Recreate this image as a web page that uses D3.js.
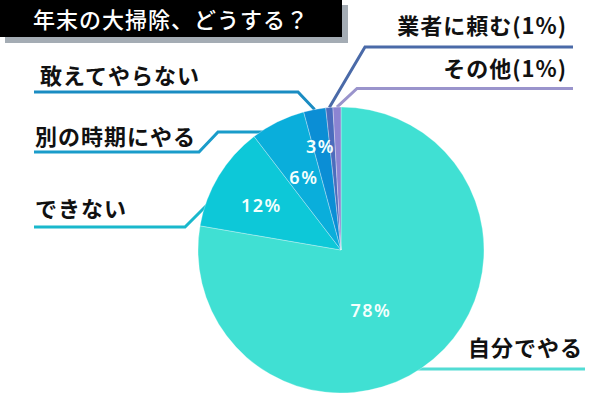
<!DOCTYPE html>
<html><head><meta charset="utf-8">
<script src="https://cdn.jsdelivr.net/npm/d3@7"></script>
<style>
html,body{margin:0;padding:0;background:#fff;}
svg{display:block;}
</style>
</head><body>
<svg id="chart" width="600" height="400"></svg>
<script>
// ---- data ----
const title = "年末の大掃除、どうする？";
const categories = ["自分でやる", "できない", "別の時期にやる", "敢えてやらない", "業者に頼む", "その他"];
const values = [77.7, 11.9, 6.2, 2.5, 0.8, 0.9];          // slice sizes
const percentLabels = ["78%", "12%", "6%", "3%", "1%", "1%"];
const showInside = [true, true, true, true, false, false];
const sliceColors = ["#40e0d3", "#0dc8d8", "#0aaedb", "#0b8ed5", "#4b6cbd", "#8c84d2"];
const lineColors  = ["#52dcd4", "#19b8cc", "#1a9cca", "#1a8cc2", "#4a6aa8", "#9a94cc"];

// ---- layout ----
const W = 600, H = 400;
const cx = 341, cy = 250, R = 143;
const svg = d3.select("#chart");

// title box with shadow
svg.append("rect").attr("x", 5).attr("y", 5).attr("width", 343).attr("height", 38).attr("fill", "#a4acb4");
svg.append("rect").attr("x", 0).attr("y", 0).attr("width", 342).attr("height", 37).attr("fill", "#000");
svg.append("text").attr("x", 33).attr("y", 28)
  .attr("fill", "#fff").attr("font-family", "'Noto Sans CJK JP', sans-serif")
  .attr("font-size", 22).attr("font-weight", 500).attr("letter-spacing", "1px")
  .text(title);

const pie = d3.pie().sort(null).value(d => d);
const arcs = pie(values);
const arc = d3.arc().innerRadius(0).outerRadius(R);
const edge = (a, r) => [cx + r * Math.sin(a), cy - r * Math.cos(a)];

// label & leader layout (annotation geometry, not data)
const labelLayout = [
  { text: categories[0], x: 583, y: 356, anchor: "end",   pts: [[585, 369], [380, 369]] },
  { text: categories[1], x: 35,  y: 217, anchor: "start", pts: [[34, 227], [185, 227], [215, 197]] },
  { text: categories[2], x: 35,  y: 145, anchor: "start", pts: [[34, 152], [199, 152], [218, 132], [285, 132]] },
  { text: categories[3], x: 40,  y: 84,  anchor: "start", pts: [[34, 92], [298, 92]], toEdge: true },
  { text: categories[4] + "(" + percentLabels[4] + ")", x: 567, y: 34, anchor: "end", pts: [[573, 47], [365, 47]], toEdge: true },
  { text: categories[5] + "(" + percentLabels[5] + ")", x: 567, y: 77, anchor: "end", pts: [[573, 88.5], [357, 88.5]], toEdge: true }
];

// leader lines (drawn beneath the pie)
const lineGen = d3.line();
labelLayout.forEach((L, i) => {
  const pts = L.pts.slice();
  if (L.toEdge) {
    const a = arcs[i];
    pts.push(edge((a.startAngle + a.endAngle) / 2, R));
  }
  svg.append("path").attr("d", lineGen(pts))
    .attr("fill", "none").attr("stroke", lineColors[i]).attr("stroke-width", 3)
    .attr("stroke-linejoin", "miter");
});

// pie
const g = svg.append("g").attr("transform", `translate(${cx},${cy})`);
g.selectAll("path.slice").data(arcs).join("path")
  .attr("class", "slice")
  .attr("d", arc)
  .attr("fill", (d, i) => sliceColors[i])
  .attr("stroke", "#ffffff").attr("stroke-opacity", 0.5).attr("stroke-width", 0.6);

// percent labels inside slices
const pctRadius = [0.47, 0.64, 0.57, 0.74];
const pctAngleNudge = [13.7, -1.6, -0.8, -0.6];
arcs.forEach((a, i) => {
  if (!showInside[i]) return;
  const ang = (a.startAngle + a.endAngle) / 2 + pctAngleNudge[i] * Math.PI / 180;
  const [x, y] = edge(ang, R * pctRadius[i]);
  svg.append("text").attr("x", x).attr("y", y)
    .attr("text-anchor", "middle").attr("dominant-baseline", "central")
    .attr("fill", "#f4fffd").attr("font-family", "'Noto Sans', 'Open Sans', sans-serif")
    .attr("font-size", 18).attr("font-weight", 600).attr("letter-spacing", "1.5px")
    .text(percentLabels[i]);
});

// category labels
labelLayout.forEach(L => {
  svg.append("text").attr("x", L.x).attr("y", L.y)
    .attr("text-anchor", L.anchor)
    .attr("fill", "#111").attr("font-family", "'Noto Sans CJK JP', sans-serif")
    .attr("font-size", 22).attr("font-weight", 700).attr("letter-spacing", "1px")
    .text(L.text);
});
</script>
</body></html>
